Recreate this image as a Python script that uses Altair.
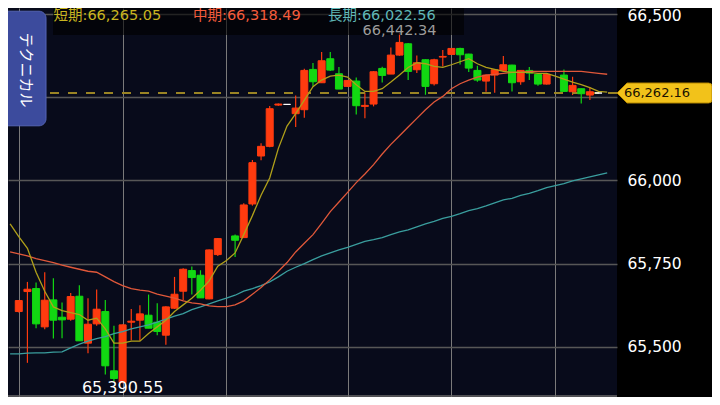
import altair as alt
import pandas as pd
import numpy as np

# ---------------- data ----------------
candle_idx = [0, 1, 2, 3, 4, 5, 6, 7, 8, 9, 10, 11, 12, 13, 14, 15, 16, 17, 18, 19, 20, 21, 22, 23,
              25, 26, 27, 28, 29, 30, 31, 32, 33, 34, 35, 36, 37, 38, 39, 40, 41, 42, 43, 44, 45,
              46, 47, 48, 49, 50, 51, 52, 53, 54, 55, 56, 57, 58, 59, 60, 61, 63, 64, 65, 66, 67]
opens = [65606, 65666, 65675, 65560, 65641, 65589, 65583, 65652, 65511, 65569, 65606, 65428, 65393,
         65574, 65580, 65595, 65574, 65535, 65616, 65667, 65729, 65715, 65644, 65777,
         65833, 65828, 65929, 66073, 66102, 66226, 66228, 66200, 66212, 66333, 66293, 66365, 66320,
         66282, 66298, 66222, 66229, 66336, 66319, 66376, 66410,
         66332, 66362, 66290, 66370, 66378, 66396, 66379, 66330, 66298, 66316, 66330, 66346, 66296,
         66330, 66318, 66289, 66316, 66266, 66275, 66256, 66262.16]
highs = [65641, 65695, 65693, 65724, 65706, 65633, 65662, 65685, 65646, 65672, 65641, 65563, 65567,
         65614, 65625, 65657, 65631, 65622, 65710, 65736, 65741, 65730, 65792, 65827,
         65837, 65931, 66061, 66111, 66223, 66231, 66228, 66255, 66335, 66352, 66385, 66385, 66340,
         66301, 66309, 66264, 66328, 66341, 66399, 66442.34, 66412,
         66375, 66363, 66365, 66391, 66397, 66398, 66380, 66344, 66317, 66333, 66373, 66347, 66331,
         66340, 66320, 66320, 66333, 66311, 66276, 66280, 66262.16]
lows = [65603, 65452, 65556, 65553, 65525, 65526, 65578, 65518, 65481, 65563, 65417, 65396, 65390.55,
        65520, 65518, 65556, 65535, 65506, 65614, 65640, 65657, 65647, 65643, 65773,
        65770, 65828, 65924, 66060, 66099, 66224, 66228, 66160, 66188, 66282, 66293, 66328, 66274,
        66281, 66198, 66186, 66222, 66294, 66319, 66374, 66301,
        66322, 66257, 66285, 66342, 66377, 66348, 66325, 66296, 66266, 66263, 66329, 66267, 66287,
        66301, 66284, 66288, 66266, 66256, 66231, 66241, 66262.16]
closes = [65639, 65673, 65569, 65640, 65580, 65581, 65651, 65518, 65568, 65613, 65443, 65405, 65566,
          65577, 65599, 65556, 65546, 65620, 65658, 65733, 65708, 65647, 65791, 65825,
          65820, 65926, 66053, 66102, 66215, 66229, 66228, 66217, 66330, 66296, 66359, 66331, 66274,
          66300, 66224, 66225, 66326, 66315, 66376, 66414, 66327,
          66353, 66282, 66362, 66372, 66396, 66377, 66337, 66301, 66316, 66332, 66347, 66293, 66330,
          66322, 66289, 66318, 66267, 66285, 66260, 66266, 66262.16]

ma_short = [65869, 65831, 65796, 65724, 65667, 65620, 65609, 65603, 65597, 65580, 65586, 65554, 65511,
            65511, 65517, 65517, 65540, 65560, 65580, 65606, 65626, 65646, 65670, 65698, 65742, 65759,
            65782, 65837, 65894, 65955, 66007, 66096, 66163, 66200, 66241, 66281, 66301, 66313, 66316,
            66310, 66287, 66267, 66267, 66275, 66295, 66316, 66339, 66353, 66350, 66342, 66339, 66347,
            66356, 66365, 66350, 66339, 66333, 66327, 66324, 66324, 66324, 66321, 66321, 66313, 66304,
            66295, 66287, 66278, 66267, 66265.05]
ma_mid = [65785, 65779, 65773, 65765, 65759, 65753, 65745, 65739, 65733, 65727, 65724, 65710, 65696,
          65684, 65675, 65670, 65667, 65658, 65652, 65646, 65638, 65632, 65629, 65623, 65621, 65621,
          65626, 65638, 65658, 65678, 65701, 65727, 65753, 65785, 65811, 65837, 65871, 65906, 65935,
          65964, 65993, 66019, 66047, 66079, 66108, 66134, 66160, 66186, 66212, 66235, 66252, 66275,
          66290, 66301, 66310, 66316, 66318, 66321, 66324, 66324, 66327, 66327, 66327, 66327, 66327,
          66327, 66327, 66324, 66321, 66318.49]
ma_long = [65479, 65479, 65481, 65482, 65482, 65484, 65485, 65497, 65508, 65517, 65525, 65531, 65540,
           65546, 65554, 65560, 65566, 65574, 65583, 65592, 65600, 65612, 65620, 65629, 65638, 65646,
           65655, 65667, 65675, 65684, 65695, 65710, 65727, 65739, 65750, 65762, 65773, 65782, 65791,
           65799, 65808, 65817, 65822, 65828, 65837, 65845, 65851, 65860, 65869, 65877, 65886, 65892,
           65900, 65909, 65915, 65923, 65932, 65941, 65946, 65955, 65961, 65969, 65978, 65984, 65990,
           65998, 66004, 66010, 66016, 66022.56]
ma_start = -1

price_ticks = [65500, 65750, 66000, 66250, 66500]
time_grid_idx = [0, 12, 24, 38, 50, 62]
current_price = 66262.16
series_names = ["短期", "中期", "長期"]

# ---------------- style ----------------
W, H = 609, 389
RED, GREEN, FLAT = "#ff3b0f", "#12d812", "#ffffff"
C_SHORT, C_MID, C_LONG = "#b0a01a", "#e0583a", "#3a9e9e"
L_SHORT, L_MID, L_LONG = "#c9b520", "#f55c3c", "#60b8b8"
FONT = "DejaVu Sans, Noto Sans CJK JP"

x_scale = alt.Scale(domain=[-0.667, 68.556], nice=False, zero=False)
y_scale = alt.Scale(domain=[65349.4, 66517.4], nice=False, zero=False)

x_axis = alt.Axis(values=time_grid_idx, grid=True, labels=False, ticks=False, domain=False, title=None,
                  gridColor="#7a7a7a", gridWidth=1)
# the 66,250 label sits under the current-price tag in the reference, so it is left blank
y_axis = alt.Axis(orient="right", values=price_ticks, format=",.0f", grid=True, gridColor="#575757",
                  gridWidth=1.5, ticks=False, domain=False, title=None, labelColor="#ffffff",
                  labelFont="DejaVu Sans", labelFontSize=15.5, labelPadding=10, labelFlush=False,
                  labelOverlap=False, labelBaseline="middle",
                  labelExpr=f"datum.value == {current_price:.0f} - 12 ? '' : datum.label",
                  labelOffset={"condition": {"test": "datum.value == 66500", "value": 2}, "value": 0})


def X(field="i:Q"):
    return alt.X(field, scale=x_scale, axis=x_axis)


def Y(field):
    return alt.Y(field, scale=y_scale, axis=y_axis)


df = pd.DataFrame({"i": candle_idx, "o": opens, "h": highs, "l": lows, "c": closes})
df["dir"] = np.where(df.c > df.o, "up", np.where(df.c < df.o, "down", "flat"))
dir_scale = alt.Scale(domain=["up", "down", "flat"], range=[RED, GREEN, FLAT])

wicks = alt.Chart(df).mark_rule(strokeWidth=1.2).encode(
    x=X(), y=Y("l:Q"), y2="h:Q",
    color=alt.Color("dir:N", scale=dir_scale, legend=None),
)
bodies = alt.Chart(df).mark_bar(size=7, strokeWidth=1).encode(
    x=X(), y=Y("o:Q"), y2="c:Q",
    color=alt.Color("dir:N", scale=dir_scale, legend=None),
    stroke=alt.Stroke("dir:N", scale=dir_scale, legend=None),
)

price_df = pd.DataFrame({"p": [current_price]})
price_line = alt.Chart(price_df).mark_rule(strokeDash=[9, 9], color="#9a8424", strokeWidth=2).encode(
    y=Y("p:Q")
)
bottom_line = alt.Chart(price_df).mark_rule(color="#6a6a6a", strokeWidth=1.5).encode(
    x=alt.value(0), x2=alt.value(W), y=alt.value(H - 1)
)

line_layers = []
for vals, col in zip([ma_long, ma_mid, ma_short], [C_LONG, C_MID, C_SHORT]):
    mdf = pd.DataFrame({"i": list(range(ma_start, ma_start + len(vals))), "v": vals})
    line_layers.append(
        alt.Chart(mdf).mark_line(strokeWidth=1.3, color=col).encode(x=X(), y=Y("v:Q"), order="i:Q")
    )

# high / low markers
hi_pos = int(np.argmax(highs))
lo_pos = int(np.argmin(lows))
hi_df = pd.DataFrame({"i": [candle_idx[hi_pos]], "t": [f"{highs[hi_pos]:,.2f}"]})
lo_df = pd.DataFrame({"i": [candle_idx[lo_pos]], "t": [f"{lows[lo_pos]:,.2f}"]})
hi_text = alt.Chart(hi_df).mark_text(
    font="DejaVu Sans", fontSize=14.5, color="#9c9c9c", align="center", baseline="middle"
).encode(x=X(), y=alt.value(22.5), text="t:N")
lo_text = alt.Chart(lo_df).mark_text(
    font="DejaVu Sans", fontSize=16, color="#ffffff", align="center", baseline="middle"
).encode(x=X(), y=alt.value(380), text="t:N")

# top legend box
box = alt.Chart(price_df).mark_rect(color="#000000", opacity=0.6).encode(
    x=alt.value(45), x2=alt.value(456), y=alt.value(0), y2=alt.value(27)
)
legend_layers = []
for name, val, col, xpos in zip(series_names, [ma_short[-1], ma_mid[-1], ma_long[-1]],
                                [L_SHORT, L_MID, L_LONG], [45.5, 185, 320]):
    ldf = pd.DataFrame({"t": [f"{name}:{val:,.2f}"]})
    legend_layers.append(
        alt.Chart(ldf).mark_text(font=FONT, fontSize=14.5, color=col, align="left", baseline="middle")
        .encode(x=alt.value(xpos), y=alt.value(7.5), text="t:N")
    )

# price tag on the right axis
tag_path = "M-1,0 L-0.79,-0.21 L0.93,-0.21 Q1,-0.21 1,-0.14 L1,0.14 Q1,0.21 0.93,0.21 L-0.79,0.21 Z"
tag = alt.Chart(price_df).mark_point(shape=tag_path, size=95 * 95, filled=True, fill="#f2c21a",
                                     stroke="#b88a00", strokeWidth=1, opacity=1).encode(
    x=alt.value(W + 47.5), y=Y("p:Q")
)
tag_text = alt.Chart(price_df).mark_text(font="DejaVu Sans", fontSize=13, color="#1a1200",
                                         align="center", baseline="middle").encode(
    x=alt.value(649), y=Y("p:Q"), text=alt.Text("p:Q", format=",.2f")
)

# left button
button = alt.Chart(price_df).mark_rect(fill="#3c4b9d", stroke="#5565b5", strokeWidth=1, cornerRadius=7).encode(
    x=alt.value(-10), x2=alt.value(38), y=alt.value(3.2), y2=alt.value(117.8)
)
button_text = alt.Chart(pd.DataFrame({"t": ["テクニカル"]})).mark_text(
    font="Noto Sans CJK JP", fontSize=15, color="#ffffff", angle=90, align="center", baseline="middle"
).encode(x=alt.value(18), y=alt.value(62), text="t:N")

chart = alt.layer(
    wicks, price_line, bodies, *line_layers, bottom_line, box, *legend_layers, hi_text, lo_text,
    tag, tag_text, button, button_text
).properties(
    width=W, height=H,
    padding={"left": 0, "top": 0, "right": 95, "bottom": 0},
    autosize=alt.AutoSizeParams(type="none"),
    background="#000000",
).configure_view(fill="#080b1b", strokeWidth=0)

chart.save("out.html", embed_options={"renderer": "svg", "actions": False})
